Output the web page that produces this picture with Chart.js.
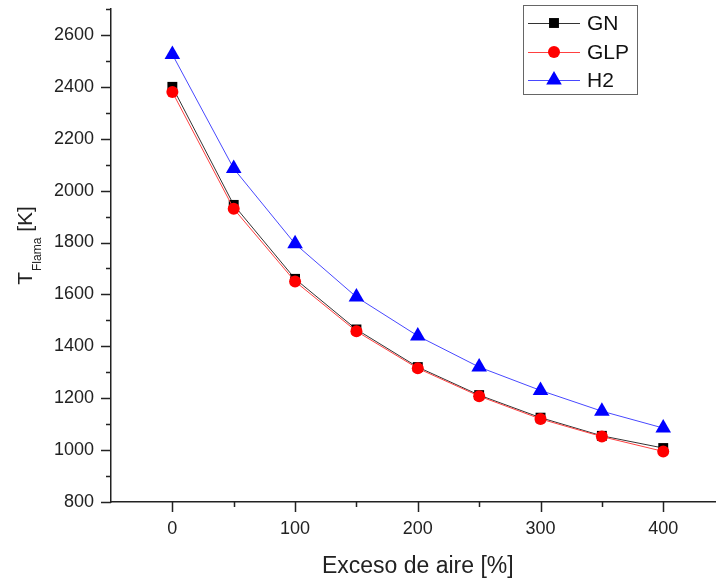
<!DOCTYPE html>
<html>
<head>
<meta charset="utf-8">
<script src="https://cdn.jsdelivr.net/npm/chart.js@4/dist/chart.umd.min.js"></script>
<style>
    html, body { margin: 0; padding: 0; background: #fff; }
    #chart { display: block; }
</style>
</head>
<body>
<canvas id="chart" width="716" height="580"></canvas>
<script>
const excesoAire = [0, 50, 100, 150, 200, 250, 300, 350, 400];
const tempGN = [2400, 1945, 1660, 1465, 1320, 1212, 1125, 1055, 1008];
const tempGLP = [2380, 1930, 1650, 1458, 1315, 1208, 1120, 1052, 995];
const tempH2 = [2525, 2085, 1795, 1590, 1440, 1320, 1230, 1150, 1085];

const xTicks = [0, 50, 100, 150, 200, 250, 300, 350, 400];
const yTicks = [800, 900, 1000, 1100, 1200, 1300, 1400, 1500, 1600, 1700, 1800, 1900, 2000, 2100, 2200, 2300, 2400, 2500, 2600, 2700];

const FONT = "'Liberation Sans', Arial, sans-serif";
const AXIS_COLOR = "#222";

function toPoints(xs, ys) {
    return xs.map((x, i) => ({ x: x, y: ys[i] }));
}

function drawMarker(ctx, style, x, y, r, color) {
    ctx.fillStyle = color;
    ctx.beginPath();
    if (style === "rect") {
        const s = Math.SQRT1_2 * r;
        ctx.rect(x - s, y - s, 2 * s, 2 * s);
    } else if (style === "circle") {
        ctx.arc(x, y, r, 0, Math.PI * 2);
    } else if (style === "triangle") {
        let a = 0;
        ctx.moveTo(x + Math.sin(a) * r, y - Math.cos(a) * r);
        a += Math.PI * 2 / 3;
        ctx.lineTo(x + Math.sin(a) * r, y - Math.cos(a) * r);
        a += Math.PI * 2 / 3;
        ctx.lineTo(x + Math.sin(a) * r, y - Math.cos(a) * r);
        ctx.closePath();
    }
    ctx.fill();
}

function noPadding(scale) {
    scale.paddingLeft = 0;
    scale.paddingRight = 0;
    scale.paddingTop = 0;
    scale.paddingBottom = 0;
}

// the x axis runs to the right edge of the canvas, as in the original
const stretchX = {
    id: "stretchX",
    afterLayout(chart) {
        const s = chart.scales.x;
        const right = chart.width;
        s.right = right;
        s.width = right - s.left;
        chart.chartArea.right = right;
        chart.chartArea.width = right - chart.chartArea.left;
        s.configure();
    }
};

// tick marks (major long, minor short), axis titles and boxed legend
const extras = {
    id: "extras",
    afterDraw(chart) {
        const { ctx, chartArea, scales } = chart;
        ctx.save();
        ctx.strokeStyle = AXIS_COLOR;
        ctx.lineWidth = 1.5;
        ctx.beginPath();
        scales.x.ticks.forEach(t => {
            const px = Math.round(scales.x.getPixelForValue(t.value)) + 0.5;
            const len = t.value % 100 === 0 ? 10 : 5;
            ctx.moveTo(px, chartArea.bottom);
            ctx.lineTo(px, chartArea.bottom + len);
        });
        scales.y.ticks.forEach(t => {
            const py = Math.round(scales.y.getPixelForValue(t.value)) + 0.5;
            const len = t.value % 200 === 0 ? 10 : 5;
            ctx.moveTo(chartArea.left, py);
            ctx.lineTo(chartArea.left - len, py);
        });
        ctx.stroke();

        // x title
        ctx.fillStyle = AXIS_COLOR;
        ctx.font = "23px " + FONT;
        ctx.textAlign = "center";
        ctx.textBaseline = "alphabetic";
        ctx.fillText("Exceso de aire [%]", scales.x.getPixelForValue(200), 573);

        // y title with subscript
        ctx.save();
        ctx.translate(25, 246);
        ctx.rotate(-Math.PI / 2);
        ctx.textAlign = "left";
        ctx.textBaseline = "alphabetic";
        const big = "21px " + FONT, small = "12px " + FONT;
        ctx.font = big;
        const wT = ctx.measureText("T").width;
        const wK = ctx.measureText(" [K]").width;
        ctx.font = small;
        const wS = ctx.measureText("Flama").width;
        const x0 = -(wT + wS + wK) / 2;
        const base = 7;
        ctx.font = big;
        ctx.fillText("T", x0, base);
        ctx.font = small;
        ctx.fillText("Flama", x0 + wT + 1, base + 9);
        ctx.font = big;
        ctx.fillText(" [K]", x0 + wT + wS + 1, base);
        ctx.restore();

        // legend
        ctx.strokeStyle = "#666";
        ctx.lineWidth = 1;
        ctx.strokeRect(523.5, 5.5, 114, 89);
        const rows = [23, 52, 80];
        ctx.font = "21px " + FONT;
        ctx.textAlign = "left";
        ctx.textBaseline = "middle";
        chart.data.datasets.forEach((ds, i) => {
            const y = rows[i];
            ctx.strokeStyle = ds.borderColor;
            ctx.lineWidth = ds.borderWidth;
            ctx.beginPath();
            ctx.moveTo(528, y + 0.5);
            ctx.lineTo(580, y + 0.5);
            ctx.stroke();
            drawMarker(ctx, ds.pointStyle, 554, y, ds.pointRadius, ds.pointBackgroundColor);
            ctx.fillStyle = "#111";
            ctx.fillText(ds.label, 587, y + 1);
        });
        ctx.restore();
    }
};

function initChart() {
    const el = document.getElementById("chart");
    new Chart(el, {
        type: "line",
        data: {
            datasets: [
                {
                    label: "GN",
                    data: toPoints(excesoAire, tempGN),
                    borderColor: "#333333",
                    borderWidth: 1,
                    pointStyle: "rect",
                    pointRadius: 7,
                    pointBorderWidth: 0,
                    pointBackgroundColor: "#000000",
                    order: 2,
                },
                {
                    label: "GLP",
                    data: toPoints(excesoAire, tempGLP),
                    borderColor: "#ff4040",
                    borderWidth: 1,
                    pointStyle: "circle",
                    pointRadius: 6,
                    pointBorderWidth: 0,
                    pointBackgroundColor: "#ff0000",
                    order: 1,
                },
                {
                    label: "H2",
                    data: toPoints(excesoAire, tempH2),
                    borderColor: "#4848ff",
                    borderWidth: 1,
                    pointStyle: "triangle",
                    pointRadius: 9,
                    pointBorderWidth: 0,
                    pointBackgroundColor: "#0000ff",
                    order: 0,
                },
            ],
        },
        options: {
            responsive: false,
            animation: false,
            devicePixelRatio: 1,
            layout: { padding: { top: 6, right: 0, bottom: 0, left: 0 } },
            plugins: {
                legend: { display: false },
                tooltip: { enabled: false },
            },
            scales: {
                x: {
                    type: "linear",
                    min: -50,
                    max: 443,
                    afterBuildTicks: (scale) => { scale.ticks = xTicks.map(v => ({ value: v })); },
                    afterFit: (scale) => {
                        scale.height = 78;
                        noPadding(scale);
                    },
                    grid: { display: false, drawTicks: true, tickLength: 10 },
                    border: { display: true, color: AXIS_COLOR, width: 1.5 },
                    ticks: {
                        autoSkip: false,
                        maxRotation: 0,
                        padding: 6,
                        color: AXIS_COLOR,
                        font: { family: FONT, size: 18 },
                        callback: (v) => (v % 100 === 0 ? String(v) : ""),
                    },
                },
                y: {
                    type: "linear",
                    min: 800,
                    max: 2700,
                    afterBuildTicks: (scale) => { scale.ticks = yTicks.map(v => ({ value: v })); },
                    afterFit: (scale) => {
                        scale.width = 111;
                        noPadding(scale);
                    },
                    grid: { display: false, drawTicks: true, tickLength: 10 },
                    border: { display: true, color: AXIS_COLOR, width: 1.5 },
                    ticks: {
                        autoSkip: false,
                        padding: 7,
                        color: AXIS_COLOR,
                        font: { family: FONT, size: 18 },
                        callback: (v) => (v % 200 === 0 ? String(v) : ""),
                    },
                },
            },
        },
        plugins: [stretchX, extras],
    });
}

document.addEventListener("DOMContentLoaded", () => {
    initChart();
});
</script>
</body>
</html>
